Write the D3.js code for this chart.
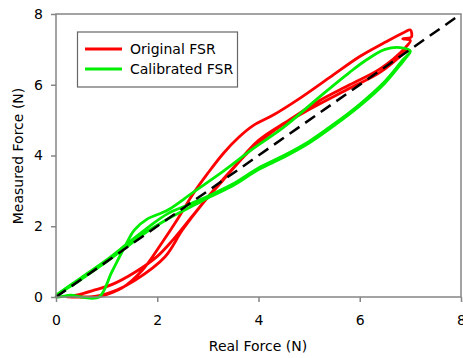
<!DOCTYPE html>
<html>
<head>
<meta charset="utf-8">
<script src="https://cdn.jsdelivr.net/npm/d3@7"></script>
<style>
  body { margin: 0; background: #fff; }
  text { font-family: "DejaVu Sans", Verdana, sans-serif; fill: #000; }
</style>
</head>
<body>
<script>
// tick values
var xTicks = [0, 2, 4, 6, 8];
var yTicks = [0, 2, 4, 6, 8];

// Original FSR - two loading/unloading cycles [real, measured]
var originalFSR = [
  [0.85,0],[1.3,0.25],[1.7,0.75],[2.1,1.55],[2.4,2.2],[2.7,2.9],[3.0,3.5],[3.3,4.05],
  [3.6,4.5],[3.9,4.85],[4.3,5.15],[4.8,5.6],[5.4,6.2],[6.0,6.8],[6.5,7.2],[6.9,7.5],
  [7.0,7.55],[7.02,7.35],[6.85,7.3],[7.0,7.25],[6.9,7.05],[6.4,6.45],[5.8,6.0],[5.2,5.55],
  [4.6,5.0],[4.0,4.43],[3.5,3.65],[3.1,3.0],[2.7,2.3],[2.3,1.6],[2.0,1.15],[1.56,0.7],
  [1.1,0.35],[0.77,0.2],[0.4,0.05],[0.2,0],[0.4,0],[0.77,0.02],[1.2,0.2],[1.56,0.47],
  [2.15,1.13],[2.5,1.9],[2.9,2.65],[3.3,3.3],[3.8,4.1],[4.3,4.7],[5.0,5.3],[5.8,5.9],
  [6.4,6.35],[6.95,7.0]
];

// Calibrated FSR
var calibratedFSR = [
  [0,0.05],[0.5,0.55],[1.0,1.05],[1.4,1.5],[1.8,1.95],[2.2,2.35],[2.6,2.6],[3.0,2.85],
  [3.5,3.2],[4.0,3.65],[4.5,4.0],[5.0,4.4],[5.5,4.9],[6.0,5.45],[6.5,6.1],[6.85,6.7],
  [7.0,6.95],[6.8,7.05],[6.5,7.0],[6.15,6.72],[5.8,6.35],[5.2,5.65],[4.5,4.8],[3.9,4.2],
  [3.3,3.55],[2.7,2.95],[2.2,2.45],[1.8,2.2],[1.55,1.9],[1.35,1.4],[1.1,0.7],[0.85,0],
  [0.5,0],[0.3,0.05],[0,0],[0.5,0.5],[1.0,1.0],[1.4,1.42],[1.8,1.85],[2.2,2.2],[2.6,2.5],
  [3.0,2.8],[3.5,3.15],[4.0,3.6],[4.5,3.95],[5.0,4.35],[5.5,4.85],[6.0,5.4],[6.5,6.05],
  [6.85,6.65],[7.0,6.92]
];

var idealLine = [[0,0],[8,8]];

var width = 463, height = 358;
var plotLeft = 56, plotRight = 461, plotTop = 14, plotBottom = 297;

var svg = d3.select('body').append('svg')
  .attr('width', width)
  .attr('height', height);

var x = d3.scaleLinear().domain([0, 8]).range([plotLeft, plotRight]);
var y = d3.scaleLinear().domain([0, 8]).range([plotBottom, plotTop]);

var line = d3.line()
  .x(function(d){ return x(d[0]); })
  .y(function(d){ return y(d[1]); })
  .curve(d3.curveCatmullRom.alpha(0.5));

// data
svg.append('path')
  .datum(originalFSR)
  .attr('d', line)
  .attr('fill', 'none')
  .attr('stroke', '#ff0000')
  .attr('stroke-width', 2.8)
  .attr('stroke-linejoin', 'round');

svg.append('path')
  .datum(calibratedFSR)
  .attr('d', line)
  .attr('fill', 'none')
  .attr('stroke', '#00ee00')
  .attr('stroke-width', 2.8)
  .attr('stroke-linejoin', 'round');

svg.append('path')
  .datum(idealLine)
  .attr('d', d3.line().x(function(d){ return x(d[0]); }).y(function(d){ return y(d[1]); }))
  .attr('fill', 'none')
  .attr('stroke', '#000')
  .attr('stroke-width', 2.5)
  .attr('stroke-dasharray', '12,7');

// frame
svg.append('rect')
  .attr('x', plotLeft).attr('y', plotTop)
  .attr('width', plotRight - plotLeft).attr('height', plotBottom - plotTop)
  .attr('fill', 'none')
  .attr('stroke', '#858585')
  .attr('stroke-width', 1.5);

// axes
var xAxis = svg.append('g')
  .attr('transform', 'translate(0,' + plotBottom + ')')
  .call(d3.axisBottom(x).tickValues(xTicks).tickSize(5).tickPadding(13));
var yAxis = svg.append('g')
  .attr('transform', 'translate(' + plotLeft + ',0)')
  .call(d3.axisLeft(y).tickValues(yTicks).tickSize(5).tickPadding(8));

[xAxis, yAxis].forEach(function(g){
  g.select('.domain').remove();
  g.selectAll('line').attr('stroke', '#858585').attr('stroke-width', 1.5);
  g.selectAll('text')
    .style('font-family', '"DejaVu Sans", Verdana, sans-serif')
    .style('font-size', '14px')
    .attr('fill', '#000');
});

// axis titles
svg.append('text')
  .attr('x', 258).attr('y', 351)
  .attr('text-anchor', 'middle')
  .style('font-size', '14px')
  .text('Real Force (N)');

svg.append('text')
  .attr('transform', 'translate(23,156) rotate(-90)')
  .attr('text-anchor', 'middle')
  .style('font-size', '14px')
  .text('Measured Force (N)');

// legend
var legend = svg.append('g');
legend.append('rect')
  .attr('x', 77.5).attr('y', 32)
  .attr('width', 160).attr('height', 55)
  .attr('fill', '#fff')
  .attr('stroke', '#666')
  .attr('stroke-width', 1.2);

var legendItems = [
  { name: 'Original FSR', color: '#ff0000' },
  { name: 'Calibrated FSR', color: '#00ee00' }
];
legendItems.forEach(function(d, i){
  var ly = 49 + i * 20;
  legend.append('line')
    .attr('x1', 85).attr('x2', 122)
    .attr('y1', ly).attr('y2', ly)
    .attr('stroke', d.color)
    .attr('stroke-width', 2.8);
  legend.append('text')
    .attr('x', 130).attr('y', ly + 5)
    .style('font-size', '14px')
    .text(d.name);
});
</script>
</body>
</html>
